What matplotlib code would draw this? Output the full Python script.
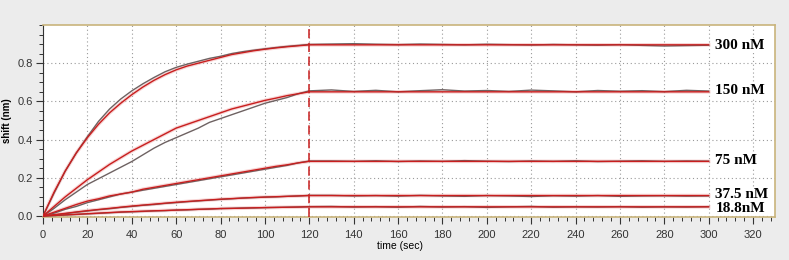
import numpy as np
import matplotlib.pyplot as plt
from matplotlib.ticker import MultipleLocator

# Colors
C_FIT = "#c81e1e"
C_HALO = "#f2b8b8"
C_DATA = "#6e6262"
C_GRID = "#9a9a9a"
C_FRAME = "#c9b47c"
C_BG = "#ececec"

# Data
t_assoc = [0, 5, 10, 15, 20, 25, 30, 35, 40, 45, 50, 55, 60, 65, 70, 75,
           80, 85, 90, 95, 100, 105, 110, 115, 120]
t_dissoc = [130, 140, 150, 160, 170, 180, 190, 200, 210, 220, 230, 240,
            250, 260, 270, 280, 290, 300]
t_fit_end = 300
t_switch = 120

labels = ["300 nM", "150 nM", "75 nM", "37.5 nM", "18.8nM"]

fit_300 = [0, 0.125, 0.235, 0.33, 0.41, 0.48, 0.54, 0.59, 0.635, 0.675, 0.71,
           0.74, 0.765, 0.785, 0.80, 0.815, 0.83, 0.845, 0.855, 0.865, 0.873,
           0.88, 0.886, 0.891, 0.896]
data_300 = [0, 0.12, 0.235, 0.33, 0.415, 0.495, 0.56, 0.612, 0.655, 0.692,
            0.725, 0.755, 0.778, 0.795, 0.81, 0.825, 0.836, 0.85, 0.86, 0.868,
            0.875, 0.882, 0.888, 0.893, 0.898,
            0.900, 0.902, 0.899, 0.897, 0.900, 0.898, 0.896, 0.899, 0.897,
            0.895, 0.898, 0.896, 0.894, 0.897, 0.893, 0.890, 0.892, 0.894]

fit_150 = [0, 0.05, 0.1, 0.145, 0.19, 0.23, 0.27, 0.305, 0.34, 0.37, 0.40,
           0.43, 0.46, 0.48, 0.50, 0.52, 0.54, 0.56, 0.575, 0.59, 0.605,
           0.617, 0.63, 0.64, 0.65]
data_150 = [0, 0.04, 0.085, 0.125, 0.165, 0.195, 0.225, 0.255, 0.285, 0.32,
            0.355, 0.385, 0.41, 0.435, 0.46, 0.49, 0.51, 0.53, 0.55, 0.57,
            0.59, 0.605, 0.62, 0.64, 0.655,
            0.660, 0.652, 0.658, 0.650, 0.656, 0.661, 0.654, 0.657, 0.652,
            0.659, 0.655, 0.650, 0.657, 0.653, 0.656, 0.651, 0.658, 0.654]

fit_75 = [0, 0.02, 0.04, 0.06, 0.078, 0.09, 0.105, 0.115, 0.125, 0.14, 0.15,
          0.16, 0.17, 0.18, 0.19, 0.20, 0.21, 0.22, 0.23, 0.24, 0.25, 0.26,
          0.268, 0.278, 0.286]
data_75 = [0, 0.015, 0.035, 0.05, 0.07, 0.085, 0.1, 0.115, 0.125, 0.135,
           0.145, 0.155, 0.165, 0.175, 0.185, 0.195, 0.205, 0.215, 0.225,
           0.235, 0.245, 0.255, 0.265, 0.278, 0.288,
           0.288, 0.286, 0.289, 0.285, 0.288, 0.286, 0.290, 0.287, 0.285,
           0.288, 0.286, 0.289, 0.285, 0.287, 0.289, 0.286, 0.288, 0.287]

fit_37 = [0, 0.007, 0.014, 0.021, 0.028, 0.034, 0.04, 0.046, 0.052, 0.057,
          0.062, 0.067, 0.072, 0.076, 0.08, 0.084, 0.088, 0.091, 0.094,
          0.097, 0.099, 0.101, 0.103, 0.105, 0.107]
data_37 = [0, 0.005, 0.012, 0.02, 0.026, 0.033, 0.038, 0.045, 0.05, 0.056,
           0.06, 0.066, 0.07, 0.075, 0.079, 0.083, 0.087, 0.09, 0.094, 0.096,
           0.099, 0.1, 0.103, 0.105, 0.108,
           0.108, 0.105, 0.107, 0.104, 0.108, 0.105, 0.103, 0.107, 0.105,
           0.102, 0.106, 0.104, 0.107, 0.103, 0.105, 0.106, 0.104, 0.105]

fit_18 = [0, 0.003, 0.006, 0.009, 0.012, 0.015, 0.018, 0.021, 0.023, 0.025,
          0.027, 0.029, 0.031, 0.033, 0.035, 0.037, 0.039, 0.040, 0.041,
          0.043, 0.044, 0.045, 0.046, 0.047, 0.048]
data_18 = [0, 0.002, 0.005, 0.008, 0.011, 0.014, 0.017, 0.02, 0.022, 0.024,
           0.027, 0.028, 0.031, 0.032, 0.035, 0.036, 0.039, 0.04, 0.042,
           0.042, 0.044, 0.045, 0.046, 0.047, 0.049,
           0.050, 0.047, 0.049, 0.046, 0.050, 0.047, 0.049, 0.045, 0.048,
           0.050, 0.046, 0.048, 0.047, 0.049, 0.046, 0.048, 0.047, 0.049]

fits = [fit_300, fit_150, fit_75, fit_37, fit_18]
datas = [data_300, data_150, data_75, data_37, data_18]
label_y = [0.894, 0.655, 0.29, 0.112, 0.04]

TICK_FONT = ["Liberation Sans Narrow", "Liberation Sans", "DejaVu Sans"]

fig = plt.figure(figsize=(7.89, 2.60), dpi=100, facecolor=C_BG)
ax = fig.add_axes([0.0545, 0.167, 0.928, 0.737], facecolor="white")

ax.set_xlim(0, 330)
ax.set_ylim(-0.003, 1.0)

# grid
ax.xaxis.set_major_locator(MultipleLocator(20))
ax.xaxis.set_minor_locator(MultipleLocator(4))
ax.yaxis.set_major_locator(MultipleLocator(0.2))
ax.yaxis.set_minor_locator(MultipleLocator(0.05))
ax.grid(True, which="major", color=C_GRID, linestyle=(0, (1, 2.5)), linewidth=0.8)

t_all = t_assoc + t_dissoc
for fit, data in zip(fits, datas):
    ax.plot(t_all, data, color=C_DATA, linewidth=1.0, zorder=3)
    tf = t_assoc + [t_fit_end]
    yf = fit + [fit[-1]]
    ax.plot(tf, yf, color=C_HALO, linewidth=2.6, alpha=0.6, zorder=2)
    ax.plot(tf, yf, color=C_FIT, linewidth=1.0, zorder=4)

ax.axvline(t_switch, color=C_FIT, linewidth=1.1, linestyle=(0, (6, 3)), zorder=5)

for lbl, yl in zip(labels, label_y):
    ax.text(303, yl, lbl, family=["Liberation Serif", "DejaVu Serif"],
            fontweight="bold", fontsize=11, va="center", ha="left",
            bbox=dict(facecolor="white", edgecolor="none", pad=0.3), zorder=6)

# frame
for side in ["top", "right", "bottom"]:
    ax.spines[side].set_color(C_FRAME)
    ax.spines[side].set_linewidth(1.2)
ax.spines["left"].set_color("#333333")

ax.tick_params(which="major", direction="out", length=5, width=0.8,
               colors="#333333", labelsize=8, pad=5)
ax.tick_params(axis="y", which="major", pad=2)
ax.tick_params(which="minor", direction="out", length=3, width=0.7,
               colors="#333333")
ax.set_yticks([0, 0.2, 0.4, 0.6, 0.8])
ax.set_yticklabels(["0.0", "0.2", "0.4", "0.6", "0.8"])
for lab in ax.get_xticklabels() + ax.get_yticklabels():
    lab.set_family(TICK_FONT)
    lab.set_color("#333333")

ax.set_xlabel("time (sec)", family=TICK_FONT, fontsize=7.5)
ax.xaxis.set_label_coords(0.487, -0.125)
ax.set_ylabel("shift (nm)", family=TICK_FONT, fontsize=7, fontweight="bold")
ax.yaxis.set_label_coords(-0.042, 0.5)

fig.savefig("out.png", dpi=100, facecolor=C_BG)
